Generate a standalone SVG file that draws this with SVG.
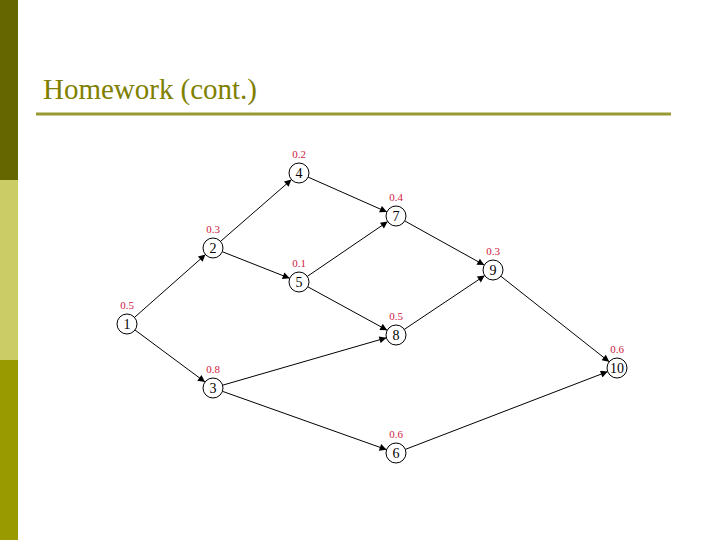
<svg xmlns="http://www.w3.org/2000/svg" width="720" height="540" viewBox="0 0 720 540">
<style>
.n circle{fill:#fff;stroke:#000;stroke-width:1}
.n text{font-family:"Liberation Serif",serif;font-size:14px;text-anchor:middle;fill:#000}
.n text.w{font-size:11px;fill:#d02040}
#edges line{stroke:#000;stroke-width:1;marker-end:url(#ah)}
</style>
<defs>
<marker id="ah" viewBox="0 0 10 10" refX="10" refY="5" markerWidth="9" markerHeight="7" markerUnits="userSpaceOnUse" orient="auto">
<path d="M0,0 L10,5 L0,10 z" fill="#000"/>
</marker>
</defs>
<rect width="720" height="540" fill="#fff"/>
<rect x="0" y="0" width="18" height="180" fill="#666600"/>
<rect x="0" y="180" width="18" height="180" fill="#cccc66"/>
<rect x="0" y="360" width="18" height="180" fill="#999900"/>
<text x="43" y="99" font-family="'Liberation Serif',serif" font-size="29" fill="#808000" textLength="214">Homework (cont.)</text>
<rect x="36" y="112.5" width="635" height="3" fill="#999933"/>
<g id="edges">
<line x1="134.5" y1="317.4" x2="205.5" y2="254.6"/>
<line x1="135" y1="330" x2="205" y2="382"/>
<line x1="220.5" y1="241.4" x2="291.5" y2="179.6"/>
<line x1="222.3" y1="251.7" x2="289.7" y2="278.3"/>
<line x1="308.1" y1="177.1" x2="386.9" y2="212"/>
<line x1="307.3" y1="276.4" x2="387.7" y2="221.6"/>
<line x1="307.8" y1="286.8" x2="387.2" y2="330.2"/>
<line x1="222.6" y1="385.2" x2="386.4" y2="337.8"/>
<line x1="222.4" y1="391.3" x2="386.6" y2="449.7"/>
<line x1="404.7" y1="220.9" x2="484.3" y2="265.1"/>
<line x1="404.3" y1="329.4" x2="484.7" y2="275.6"/>
<line x1="500.8" y1="276.2" x2="609.2" y2="361.8"/>
<line x1="405.3" y1="449.4" x2="607.7" y2="371.6"/>
</g>
<g id="n1" class="n"><circle cx="127" cy="324" r="10"/><text x="127" y="329">1</text><text class="w" x="127" y="309">0.5</text></g>
<g id="n2" class="n"><circle cx="213" cy="248" r="10"/><text x="213" y="253">2</text><text class="w" x="213" y="233">0.3</text></g>
<g id="n3" class="n"><circle cx="213" cy="388" r="10"/><text x="213" y="393">3</text><text class="w" x="213" y="373">0.8</text></g>
<g id="n4" class="n"><circle cx="299" cy="173" r="10"/><text x="299" y="178">4</text><text class="w" x="299" y="158">0.2</text></g>
<g id="n5" class="n"><circle cx="299" cy="282" r="10"/><text x="299" y="287">5</text><text class="w" x="299" y="267">0.1</text></g>
<g id="n6" class="n"><circle cx="396" cy="453" r="10"/><text x="396" y="458">6</text><text class="w" x="396" y="438">0.6</text></g>
<g id="n7" class="n"><circle cx="396" cy="216" r="10"/><text x="396" y="221">7</text><text class="w" x="396" y="201">0.4</text></g>
<g id="n8" class="n"><circle cx="396" cy="335" r="10"/><text x="396" y="340">8</text><text class="w" x="396" y="320">0.5</text></g>
<g id="n9" class="n"><circle cx="493" cy="270" r="10"/><text x="493" y="275">9</text><text class="w" x="493" y="255">0.3</text></g>
<g id="n10" class="n"><circle cx="617" cy="368" r="10"/><text x="617" y="373">10</text><text class="w" x="617" y="353">0.6</text></g>
</svg>
